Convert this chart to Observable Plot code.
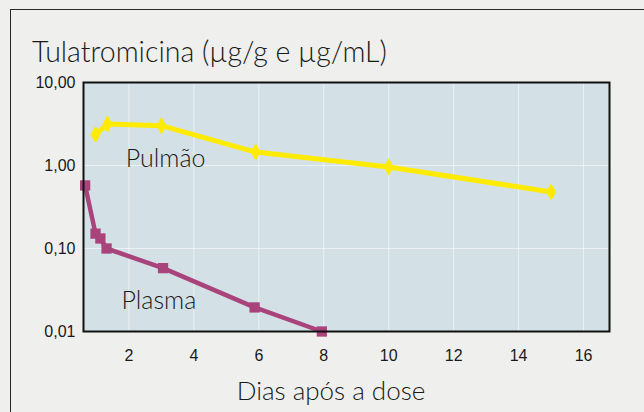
<!DOCTYPE html>
<html>
<head>
<meta charset="utf-8">
<script src="https://cdn.jsdelivr.net/npm/d3@7"></script>
<script src="https://cdn.jsdelivr.net/npm/@observablehq/plot@0.6"></script>
<style>
  html, body { margin: 0; padding: 0; background: #efefed; }
  body { width: 644px; height: 412px; position: relative; overflow: hidden; }
  #panel { position: absolute; left: 10px; top: 9px; width: 700px; height: 500px;
           border-left: 1.5px solid #2a2a2a; border-top: 1.5px solid #2a2a2a; box-sizing: border-box; }
  #chart { position: absolute; left: 0; top: 0; }
  .title { position: absolute; left: 32px; top: 34px; font-family: Lato, sans-serif; font-weight: 300;
           font-size: 28.5px; line-height: 1.2; color: #1a1a1a; white-space: nowrap; }
  .xlabel { position: absolute; left: 0; width: 662px; top: 375px; text-align: center;
            font-family: Lato, sans-serif; font-weight: 300; font-size: 26px; line-height: 1.2; color: #1a1a1a; }
</style>
</head>
<body>
<div id="panel"></div>
<div id="chart"></div>
<div class="title">Tulatromicina (µg/g e µg/mL)</div>
<div class="xlabel">Dias após a dose</div>
<script>
// Pulmão (lung) µg/g
const pulmaoDays = [0.97, 1.34, 3.0, 5.9, 10.0, 15.0];
const pulmaoConc = [2.36, 3.16, 3.02, 1.45, 0.96, 0.48];
// Plasma µg/mL
const plasmaDays = [0.65, 0.97, 1.12, 1.31, 3.05, 5.87, 7.94];
const plasmaConc = [0.575, 0.151, 0.132, 0.10, 0.058, 0.0195, 0.01];
const xTicks = [2, 4, 6, 8, 10, 12, 14, 16];
const yTicks = [10, 1, 0.1, 0.01];
const yTickLabels = ["10,00", "1,00", "0,10", "0,01"];
const seriesLabels = ["Pulmão", "Plasma"];

const pulmao = pulmaoDays.map((d, i) => ({day: d, conc: pulmaoConc[i]}));
const plasma = plasmaDays.map((d, i) => ({day: d, conc: plasmaConc[i]}));

const chart = Plot.plot({
  width: 644,
  height: 412,
  marginLeft: 83,
  marginRight: 35,
  marginTop: 82,
  marginBottom: 81,
  style: {background: "transparent", fontFamily: "'Liberation Sans', Arial, sans-serif", fontSize: "16px", color: "#1a1a1a"},
  x: {domain: [0.6, 16.8], ticks: xTicks, label: null},
  y: {type: "log", domain: [0.01, 10], ticks: yTicks, label: null},
  marks: [
    Plot.frame({fill: "#d3e1e6"}),
    Plot.gridX(xTicks, {stroke: "#ffffff", strokeOpacity: 0.55, strokeWidth: 1}),
    Plot.gridY([1, 0.1], {stroke: "#ffffff", strokeOpacity: 0.55, strokeWidth: 1}),
    Plot.axisX({ticks: xTicks, tickSize: 0, tickPadding: 18, fontSize: 16, label: null}),
    Plot.axisY({ticks: yTicks, tickSize: 0, tickPadding: 8, fontSize: 16, label: null,
                tickFormat: d => yTickLabels[yTicks.indexOf(d)]}),
    Plot.line(plasma, {x: "day", y: "conc", stroke: "#a8437b", strokeWidth: 4.5}),
    Plot.dot(plasma, {x: "day", y: "conc", symbol: "square", r: 5.8, fill: "#a8437b"}),
    Plot.line(pulmao, {x: "day", y: "conc", stroke: "#ffeb00", strokeWidth: 5}),
    Plot.dot(pulmao, {x: "day", y: "conc", symbol: "diamond", r: 5.3, fill: "#ffeb00"}),
    Plot.text([seriesLabels[0]], {x: 3.13, y: 1.21, text: d => d, fontSize: 25, fontWeight: 300, fontFamily: "Lato, sans-serif", fill: "#1a1a1a"}),
    Plot.text([seriesLabels[1]], {x: 2.92, y: 0.0236, text: d => d, fontSize: 25, fontWeight: 300, fontFamily: "Lato, sans-serif", fill: "#1a1a1a"}),
    Plot.frame({stroke: "#111111", strokeWidth: 2})
  ]
});
document.getElementById("chart").appendChild(chart);
</script>
</body>
</html>
